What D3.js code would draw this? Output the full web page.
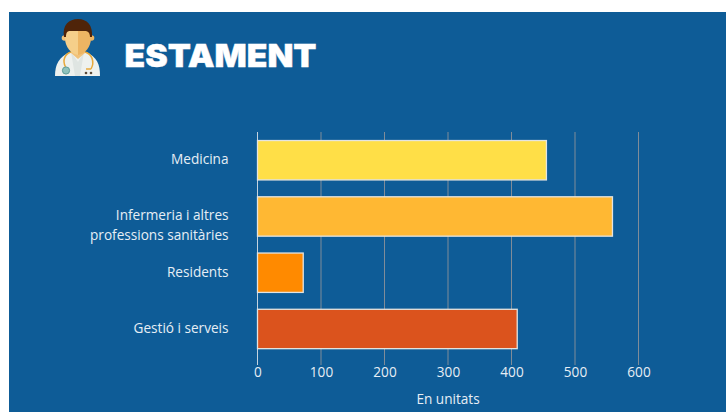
<!DOCTYPE html>
<html lang="en">
<head>
	<meta charset="UTF-8">
	<title>Estament</title>
	<style>
		html, body { margin: 0; padding: 0; background: #fff; }
		svg { display: block; }
		.Axis text, .cat, .x-title { font-family: "Open Sans", sans-serif; font-size: 13.6px; font-weight: 500; fill: #e6eef5; }
		.title { font-family: Inter, sans-serif; font-weight: 900; font-size: 32px; fill: #fff; stroke: #fff; stroke-width: 0.4px; }
	</style>
	<script src="https://d3js.org/d3.v7.min.js"></script>
</head>
<body>
	<script type="text/javascript">

		const categories = ["Medicina", "Infermeria i altres|professions sanitàries", "Residents", "Gestió i serveis"];
		const values = [455, 559, 72, 409];
		const barColors = ["#ffdf47", "#ffb833", "#ff8a00", "#db531d"];
		const xTicks = [0, 100, 200, 300, 400, 500, 600];

		const w = 726, h = 412;

		const svg = d3.select("body").append("svg")
			.attr("width", w)
			.attr("height", h);

		svg.append("rect")
			.attr("x", 9).attr("y", 12)
			.attr("width", w - 9).attr("height", h - 12)
			.attr("fill", "#0e5c97");

		const xScale = d3.scaleLinear().domain([0, 600]).range([257.5, 638.5]);
		const yScale = d3.scaleBand().domain(categories).range([132.1, 357.1]).paddingInner(0.3).paddingOuter(0.15);

		// grid lines
		svg.append("g").selectAll("line")
			.data(xTicks).enter()
			.append("line")
			.attr("x1", d => xScale(d)).attr("x2", d => xScale(d))
			.attr("y1", 132).attr("y2", 365)
			.attr("stroke", d => d === 0 ? "#c3d3e0" : "#7f8c99")
			.attr("stroke-width", 1);

		// bars
		svg.append("g").selectAll("rect")
			.data(values).enter()
			.append("rect")
			.attr("x", xScale(0))
			.attr("y", (d, i) => yScale(categories[i]))
			.attr("width", d => xScale(d) - xScale(0))
			.attr("height", yScale.bandwidth())
			.attr("fill", (d, i) => barColors[i])
			.attr("stroke", "#e4e4e0")
			.attr("stroke-width", 1.3);

		// category labels, the first line stays on the bar's centre
		const cat = svg.append("g").selectAll("text")
			.data(categories).enter()
			.append("text")
			.attr("class", "cat")
			.attr("text-anchor", "end");
		cat.each(function (d) {
			const lines = d.split("|");
			const mid = yScale(d) + yScale.bandwidth() / 2;
			d3.select(this).selectAll("tspan")
				.data(lines).enter()
				.append("tspan")
				.attr("x", 228.5)
				.attr("y", (l, i) => mid + 3.8 + i * 20)
				.text(l => l);
		});

		const xAxis = d3.axisBottom(xScale).tickValues(xTicks).tickSize(0).tickPadding(0);
		const gx = svg.append("g")
			.attr("class", "Axis x")
			.attr("transform", "translate(0,367)")
			.call(xAxis);
		gx.select(".domain").remove();

		svg.append("text")
			.attr("class", "x-title")
			.attr("x", 448).attr("y", 404)
			.attr("text-anchor", "middle")
			.text("En unitats");

		svg.append("text")
			.attr("class", "title")
			.attr("x", 124.5).attr("y", 67.3)
			.attr("textLength", 192)
			.attr("lengthAdjust", "spacingAndGlyphs")
			.text("ESTAMENT");

		// doctor icon
		const icon = svg.append("g");
		icon.append("path").attr("fill", "#eef1ee")
			.attr("d", "M55 76 C55 64 59 57 70 52 L86 52 C97 57 100 64 100 76 Z");
		icon.append("path").attr("fill", "#dfe5e2")
			.attr("d", "M71 52 L78 62 L84 52 L80 76 L75 76 Z");
		icon.append("path").attr("fill", "#f1c27a")
			.attr("d", "M71 46 L85 46 L85 53 L78 59 L71 53 Z");
		icon.append("circle").attr("cx", 64.5).attr("cy", 38).attr("r", 2.8).attr("fill", "#f1c27a");
		icon.append("circle").attr("cx", 91.5).attr("cy", 38).attr("r", 2.8).attr("fill", "#edb563");
		icon.append("path").attr("fill", "#f5cf8a")
			.attr("d", "M65 30 L78 30 L78 55 C71 54 65 47 65 38 Z");
		icon.append("path").attr("fill", "#edb563")
			.attr("d", "M78 30 L91 30 L91 38 C91 47 85 54 78 55 Z");
		icon.append("path").attr("fill", "#4f2409")
			.attr("d", "M64 37 C62 25 69 19 78 19 C87 19 93 25 92 37 L90 37 C90 33 88 31 85 31 L70 31 C67 31 66 33 66 37 Z");
		icon.append("path").attr("fill", "none").attr("stroke", "#e8a93c").attr("stroke-width", 1.5)
			.attr("d", "M71 52 C65 54 62 60 65.5 67 M85 52 C92 54 95 62 91 69 M91 69 L86 69");
		icon.append("circle").attr("cx", 66).attr("cy", 70.5).attr("r", 3.6)
			.attr("fill", "#8fc3bd").attr("stroke", "#5e9c98").attr("stroke-width", 1);
		icon.append("circle").attr("cx", 86).attr("cy", 73).attr("r", 1.3).attr("fill", "#5a4a3a");
		icon.append("circle").attr("cx", 91).attr("cy", 73).attr("r", 1.3).attr("fill", "#5a4a3a");

	</script>
</body>
</html>
